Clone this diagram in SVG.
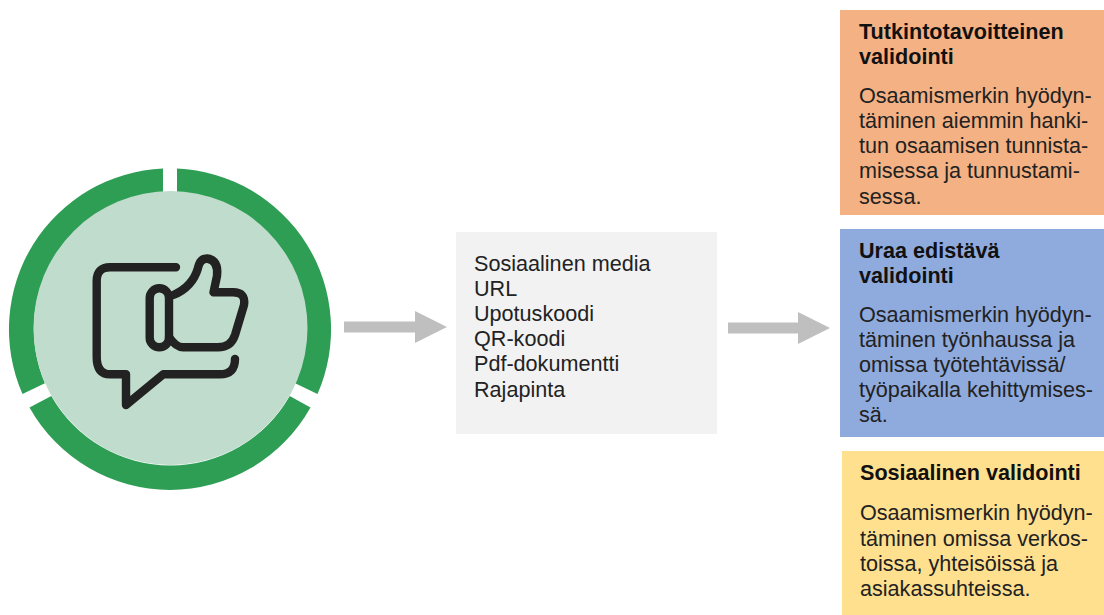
<svg xmlns="http://www.w3.org/2000/svg" width="1104" height="615" viewBox="0 0 1104 615">
<style>
text{font-family:"Liberation Sans",Arial,sans-serif;font-size:21.6px;fill:#222}
.t{font-weight:bold;fill:#111}
.ring{fill:#2f9e55}
.ic{fill:none;stroke:#222;stroke-width:8.4;stroke-linecap:round;stroke-linejoin:round}
.arrow{fill:#bfbfbf}
</style>
<rect width="1104" height="615" fill="#fff"/>
<g id="badge">
<path class="ring" d="M163 168.5A161 161 0 0 0 22.5 394L44.9 383.2A137 137 0 0 1 163 192.5Z"/>
<path class="ring" d="M177 168.5A161 161 0 0 1 317.5 394L295.1 383.2A137 137 0 0 0 177 192.5Z"/>
<path class="ring" d="M29.5 407.5A161 161 0 0 0 310.5 407.5L289.7 396A137 137 0 0 1 51.3 396Z"/>
<circle cx="170.5" cy="328" r="137" fill="#c0dccd"/>
<path class="ic" d="M176 267.3H110Q96.7 267.3 96.7 281V356.7Q96.7 374.3 110 374.3H126V405L163.3 374.3H220Q235 374.3 235 359"/>
<rect class="ic" x="149.7" y="288.3" width="19.3" height="59" rx="9.6"/>
<path class="ic" d="M173.3 295C190 288 196 275 198 268Q200 258.5 207 258.5Q219 260 217 276L213.5 292.3H233Q246 292.3 244 305L235 335Q231 347.3 218 347.3H183Q176 347.3 169 337"/>
</g>
<g id="connectors">
<path class="arrow" d="M344 321.5H415V311L447 327L415 343V332.5H344Z"/>
<path class="arrow" d="M728 322.5H798V312L830 328L798 344V333.5H728Z"/>
</g>
<g id="channels">
<rect x="456" y="232" width="261" height="202" fill="#f2f2f2"/>
<text x="474" y="271">Sosiaalinen media</text>
<text x="474" y="296">URL</text>
<text x="474" y="321">Upotuskoodi</text>
<text x="474" y="346">QR-koodi</text>
<text x="474" y="371">Pdf-dokumentti</text>
<text x="474" y="397">Rajapinta</text>
</g>
<g id="tutkinto">
<rect x="840" y="10" width="264" height="205" fill="#f4b183"/>
<text class="t" x="859" y="39">Tutkintotavoitteinen</text>
<text class="t" x="859" y="64">validointi</text>
<text x="859" y="103">Osaamismerkin hyödyn-</text>
<text x="859" y="128">täminen aiemmin hanki-</text>
<text x="859" y="153">tun osaamisen tunnista-</text>
<text x="859" y="178">misessa ja tunnustami-</text>
<text x="859" y="204">sessa.</text>
</g>
<g id="ura">
<rect x="840" y="229" width="264" height="208" fill="#8faadc"/>
<text class="t" x="859" y="258">Uraa edistävä</text>
<text class="t" x="859" y="283">validointi</text>
<text x="859" y="322">Osaamismerkin hyödyn-</text>
<text x="859" y="347">täminen työnhaussa ja</text>
<text x="859" y="372">omissa työtehtävissä/</text>
<text x="859" y="397">työpaikalla kehittymises-</text>
<text x="859" y="422">sä.</text>
</g>
<g id="sosiaalinen">
<rect x="842" y="451" width="262" height="164" fill="#ffe08f"/>
<text class="t" x="860" y="480">Sosiaalinen validointi</text>
<text x="860" y="520">Osaamismerkin hyödyn-</text>
<text x="860" y="546">täminen omissa verkos-</text>
<text x="860" y="571">toissa, yhteisöissä ja</text>
<text x="860" y="596">asiakassuhteissa.</text>
</g>
</svg>
